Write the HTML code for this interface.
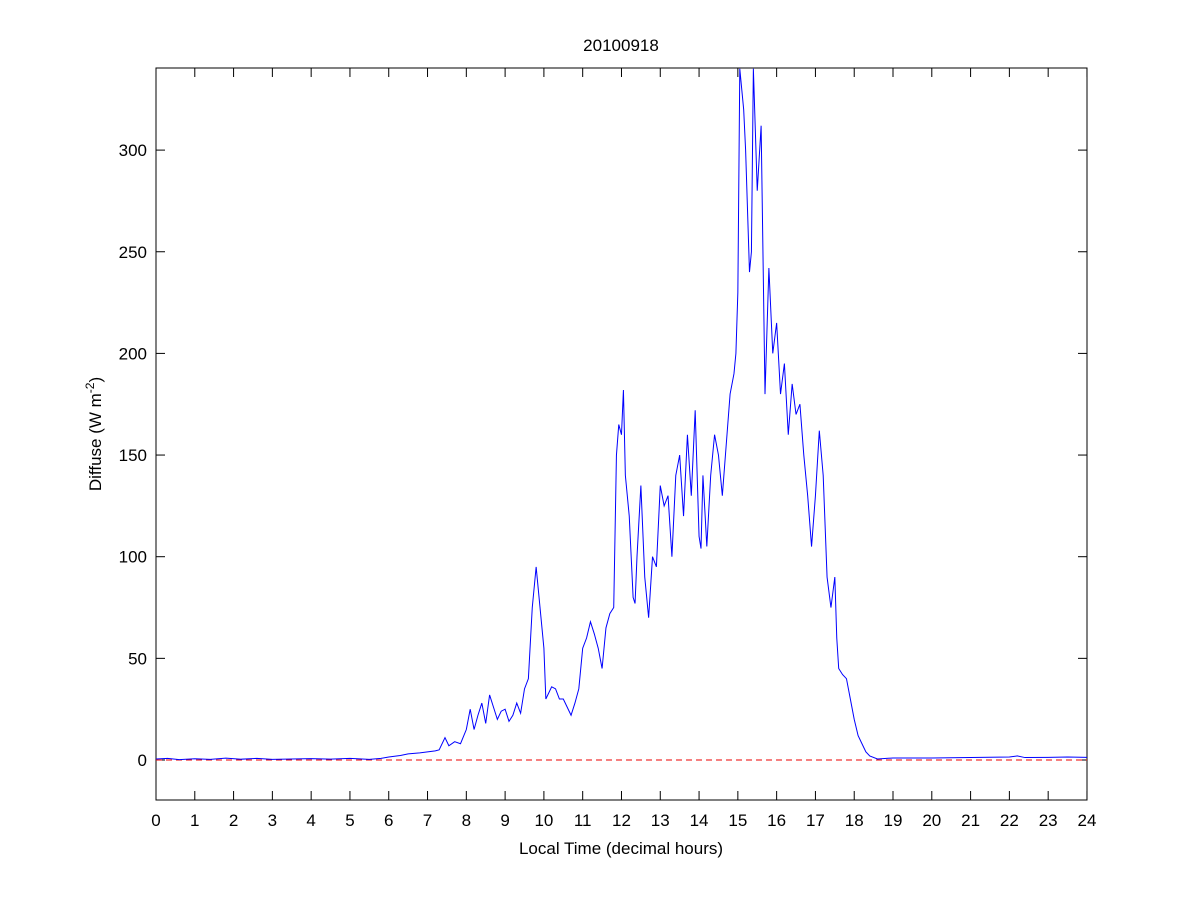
<!DOCTYPE html>
<html><head><style>body{margin:0;background:#fff}svg{display:block}text{font-family:"Liberation Sans",sans-serif;fill:#000}</style></head>
<body>
<svg width="1201" height="900" xmlns="http://www.w3.org/2000/svg">
<rect x="0" y="0" width="1201" height="900" fill="#fff"/>
<rect x="156" y="68" width="931" height="732" fill="#fff" stroke="#000" stroke-width="1"/>
<g stroke="#000" stroke-width="1" id="ticks"></g>
<g font-size="17" text-anchor="middle" id="xl"></g>
<g font-size="17" text-anchor="end" id="yl"></g>
<line x1="156" y1="760" x2="1087" y2="760" stroke="#e00" stroke-dasharray="6,4" stroke-width="1"/>
<g transform="translate(156,760) scale(38.79,-2.033)">
<polyline fill="none" stroke="#0000ff" stroke-width="1" vector-effect="non-scaling-stroke" points="0,0.5 0.3,0.8 0.6,0.2 1,0.6 1.4,0.3 1.8,0.9 2.2,0.4 2.6,0.8 3,0.3 3.5,0.5 4,0.7 4.5,0.4 5,0.8 5.5,0.3 5.8,0.8 6,1.5 6.3,2.2 6.5,3 6.8,3.5 7,4 7.2,4.5 7.3,5 7.45,11 7.55,7 7.7,9 7.85,8 8,15 8.1,25 8.2,15 8.3,22 8.4,28 8.5,18 8.6,32 8.7,26 8.8,20 8.9,24 9,25 9.1,19 9.2,22 9.3,28 9.4,23 9.5,35 9.6,40 9.7,75 9.8,95 9.85,85 9.9,75 10,55 10.05,30 10.2,36 10.3,35 10.4,30 10.5,30 10.6,26 10.7,22 10.8,28 10.9,35 11,55 11.1,60 11.2,68 11.3,62 11.4,55 11.5,45 11.6,65 11.7,72 11.8,75 11.87,150 11.93,165 12,160 12.05,182 12.1,140 12.2,120 12.25,100 12.3,80 12.35,77 12.4,100 12.5,135 12.6,90 12.7,70 12.8,100 12.9,95 13,135 13.1,125 13.2,130 13.3,100 13.4,140 13.5,150 13.6,120 13.7,160 13.8,130 13.9,172 14,110 14.05,104 14.1,140 14.2,105 14.3,140 14.4,160 14.5,150 14.6,130 14.7,155 14.8,180 14.9,190 14.95,200 15,230 15.05,340 15.15,320 15.2,300 15.3,240 15.35,250 15.4,340 15.5,280 15.6,312 15.7,180 15.8,242 15.9,200 16,215 16.1,180 16.2,195 16.3,160 16.4,185 16.5,170 16.6,175 16.7,150 16.8,130 16.9,105 17,130 17.1,162 17.2,140 17.3,90 17.4,75 17.5,90 17.55,60 17.6,45 17.7,42 17.8,40 17.9,30 18,20 18.1,12 18.2,8 18.3,4 18.4,2 18.6,0.5 19,1 20,1 21,1.2 22,1.5 22.2,2 22.4,1.2 23,1.3 23.5,1.5 24,1.3"/>
</g>
<text x="621" y="51" font-size="17" text-anchor="middle">20100918</text>
<text x="621" y="854" font-size="17" text-anchor="middle">Local Time (decimal hours)</text>
<text transform="translate(101,434) rotate(-90)" font-size="17" text-anchor="middle">Diffuse (W m<tspan dy="-7" font-size="12">-2</tspan><tspan dy="7">)</tspan></text>
<script>
var t=document.getElementById('ticks'),xl=document.getElementById('xl'),yl=document.getElementById('yl'),ns='http://www.w3.org/2000/svg';
function L(a,b,c,d){var l=document.createElementNS(ns,'line');l.setAttribute('x1',a);l.setAttribute('y1',b);l.setAttribute('x2',c);l.setAttribute('y2',d);t.appendChild(l);}
function T(g,x,y,s){var e=document.createElementNS(ns,'text');e.setAttribute('x',x);e.setAttribute('y',y);e.textContent=s;g.appendChild(e);}
for(var h=0;h<=24;h++){var x=156+h*38.79;L(x,800,x,791);L(x,68,x,77);T(xl,x,826,h);}
for(var v=0;v<=300;v+=50){var y=760-v*2.033;L(156,y,165,y);L(1087,y,1078,y);T(yl,147,y+6,v);}
</script>
</svg>
</body></html>
